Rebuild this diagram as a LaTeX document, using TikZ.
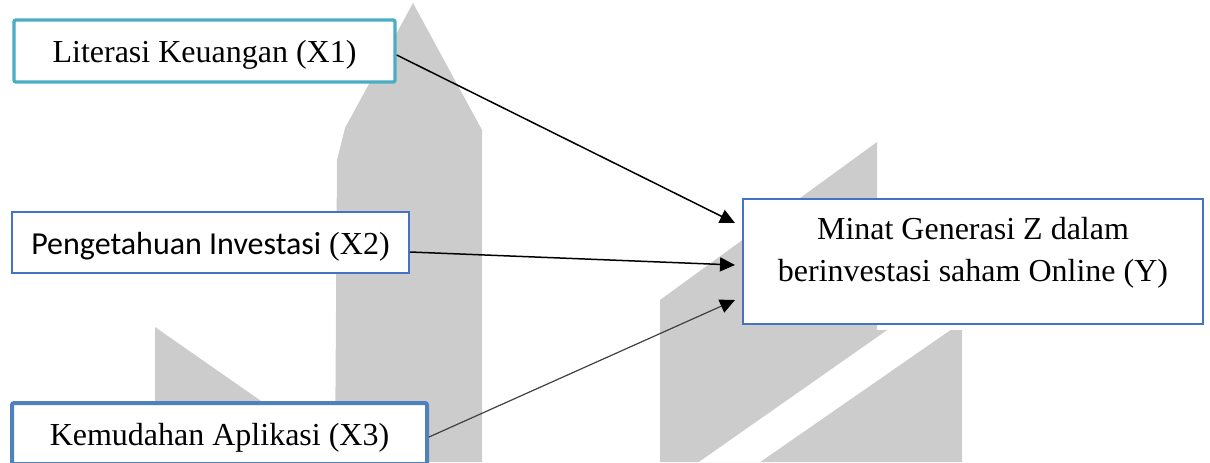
\documentclass[tikz,border=0pt]{standalone}
\usepackage{fontspec}
\setmainfont{Liberation Serif}
\newfontfamily\calibri{Carlito}
\usetikzlibrary{positioning,arrows.meta}
\definecolor{tealline}{HTML}{4BACC6}
\definecolor{blueline}{HTML}{4472C4}
\definecolor{darkblueline}{HTML}{4F81BD}
\definecolor{wmgray}{HTML}{CCCCCC}
\tikzset{
  oneline/.style={text height=13pt, text depth=1.5pt},
  link/.style={-{Triangle[length=7.5pt,width=7pt,color=black]}, line width=0.75pt},
}

\begin{document}
\begin{tikzpicture}[x=0.5pt,y=-0.5pt]
    \useasboundingbox (0,0) rectangle (1210,462);
    \clip (0,0) rectangle (1210,462);
    %\draw[red] (0,0) rectangle (1210,462);
    \fill[wmgray] (413,3) -- (482,130) -- (482,462) -- (335,462) -- (337,160) -- (345,128) -- cycle;
    \fill[wmgray] (155,327) -- (360,470) -- (155,470) -- cycle;
    \fill[wmgray] (660,300) -- (877,142) -- (877,330) -- (962,330) -- (962,462) -- (660,462) -- cycle;
    \fill[white] (699,462) -- (896,324) -- (959,324) -- (760,462) -- cycle;

    \tikzstyle{item}=[rectangle, draw, fill=white, inner sep=0pt,
        align=center, text=black, font=\fontsize{16}{21}\selectfont]
    \node (Literasi) [item, oneline, draw=tealline, line width=1.7pt,
        rounded corners=1pt, minimum width=190.5pt, minimum height=31pt]
        at (204.5,51)
        {Literasi Keuangan (X1)};
    \node (Pengetahuan) [item, oneline, draw=blueline, line width=1.1pt,
        minimum width=198.5pt, minimum height=30.5pt]
        at (210.5,242.5)
        {{\calibri Pengetahuan Investasi} (X2)};
    \node (Kemudahan) [item, oneline, draw=darkblueline, line width=2pt,
        rounded corners=1pt, minimum width=207.5pt, minimum height=30.5pt]
        at (219.5,433.5)
        {Kemudahan Aplikasi (X3)};
    \node (Minat) [item, draw=blueline, line width=0.8pt,
        minimum width=230pt, minimum height=62.5pt]
        at (973,261.5)
        {Minat Generasi Z dalam\\berinvestasi saham Online (Y)\rule[-12pt]{0pt}{12pt}};

    \draw[link] ([yshift=-2pt]Literasi.east) -- ([xshift=-3.6pt,yshift=19.25pt]Minat.west);
    \draw[link] ([yshift=-4.75pt]Pengetahuan.east) -- ([xshift=-3.6pt,yshift=-1.75pt]Minat.west);
    \draw[link, draw=black!75, line width=0.6pt] ([yshift=-1.75pt]Kemudahan.east) -- ([xshift=-3.6pt,yshift=-19.25pt]Minat.west);
\end{tikzpicture}
\end{document}
